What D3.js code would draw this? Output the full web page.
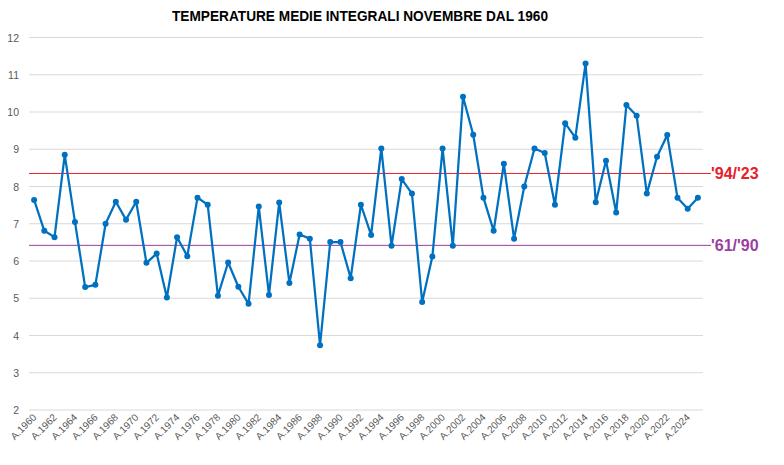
<!DOCTYPE html>
<html><head><meta charset="utf-8">
<script src="https://cdn.jsdelivr.net/npm/d3@7"></script>
<style>body{margin:0;background:#fff;}svg{display:block;}</style>
</head><body>
<script>
const years = d3.range(1960, 2026);
const temps = [7.64,6.81,6.64,8.85,7.05,5.30,5.36,7.00,7.59,7.11,
  7.59,5.95,6.20,5.02,6.64,6.13,7.70,7.51,5.07,5.96,
  5.31,4.85,7.46,5.09,7.57,5.41,6.71,6.60,3.74,6.51,
  6.51,5.54,7.51,6.70,9.02,6.41,8.20,7.81,4.90,6.12,
  9.02,6.41,10.41,9.39,7.70,6.81,8.61,6.60,8.00,9.02,
  8.90,7.51,9.70,9.31,11.30,7.58,8.69,7.30,10.19,9.90,
  7.81,8.80,9.38,7.70,7.40,7.70];
const yTicks = [2,3,4,5,6,7,8,9,10,11,12];
const refLines = [{label:"'94/'23", value:8.35, color:"#e8202a"},
                  {label:"'61/'90", value:6.42, color:"#9b3f9e"}];
const title = "TEMPERATURE MEDIE INTEGRALI NOVEMBRE DAL 1960";

const W = 784, H = 465;
const mLeft = 29, mRight = 703, mTop = 37.5, mBottom = 410;
const svg = d3.select("body").append("svg").attr("width", W).attr("height", H);

const x = d3.scaleBand().domain(years).range([mLeft, mRight]);
const y = d3.scaleLinear().domain([2, 12]).range([mBottom, mTop]);

svg.append("text").attr("x", 360).attr("y", 21).attr("text-anchor", "middle")
  .attr("font-family", "Liberation Sans, Arial, sans-serif").attr("font-weight", "bold")
  .attr("font-size", 14).attr("textLength", 376).attr("lengthAdjust", "spacingAndGlyphs")
  .attr("fill", "#000").text(title);

// gridlines
svg.append("g").selectAll("line").data(yTicks).join("line")
  .attr("x1", mLeft).attr("x2", mRight)
  .attr("y1", d => y(d)).attr("y2", d => y(d))
  .attr("stroke", "#d9d9d9").attr("stroke-width", 1);

svg.append("g").selectAll("text").data(yTicks).join("text")
  .attr("x", 19).attr("y", d => y(d) + 4).attr("text-anchor", "end")
  .attr("font-family", "Liberation Sans, Arial, sans-serif").attr("font-size", 10.5)
  .attr("fill", "#595959").text(d => d);

// reference lines
refLines.forEach(r => {
  svg.append("line").attr("x1", mLeft).attr("x2", 711)
    .attr("y1", y(r.value)).attr("y2", y(r.value))
    .attr("stroke", r.color).attr("stroke-width", 1);
  svg.append("text").attr("x", 711).attr("y", y(r.value) + 5.5)
    .attr("font-family", "Liberation Sans, Arial, sans-serif").attr("font-weight", "bold")
    .attr("font-size", 16).attr("fill", r.color).text(r.label);
});

// x labels
const labYears = years.filter(d => d % 2 === 0);
svg.append("g").selectAll("text").data(labYears).join("text")
  .attr("transform", d => `translate(${x(d) + x.bandwidth()/2 + 3},${mBottom + 8}) rotate(-45)`)
  .attr("text-anchor", "end")
  .attr("font-family", "Liberation Sans, Arial, sans-serif").attr("font-size", 10)
  .attr("fill", "#595959").text(d => "A." + d);

const data = years.map((yr, i) => ({yr, v: temps[i]}));
const line = d3.line().x(d => x(d.yr) + x.bandwidth()/2).y(d => y(d.v));
svg.append("path").datum(data).attr("d", line).attr("fill", "none")
  .attr("stroke", "#0070c0").attr("stroke-width", 2.25).attr("stroke-linejoin", "round");
svg.append("g").selectAll("circle").data(data).join("circle")
  .attr("cx", d => x(d.yr) + x.bandwidth()/2).attr("cy", d => y(d.v)).attr("r", 3)
  .attr("fill", "#0070c0");
</script>
</body></html>
